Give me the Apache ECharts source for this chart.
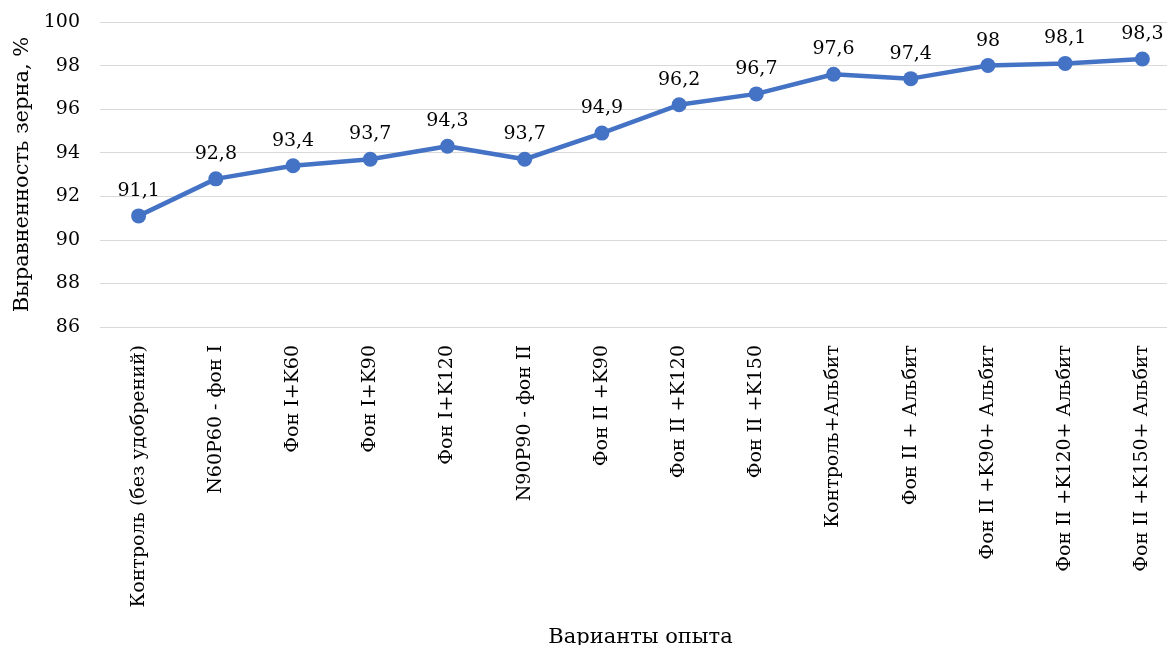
<html>
<head>
    <meta charset="utf-8">
    <title></title>
    <script src="https://cdn.jsdelivr.net/npm/echarts@6/dist/echarts.min.js" type="text/javascript"></script>
    <style>
        html, body { margin:0; padding:0; background:#fff; overflow:hidden; }
    </style>
</head>
<body>
    <!-- the plot runs a little past the right edge of the window, as in the original -->
    <div id="lineDiv" style="width:1181px;height:645px;"></div>
</body>
<script type="text/javascript" charset="utf-8">
    // варианты опыта
    var categories = ['Контроль (без удобрений)', 'N60P60 - фон I', 'Фон I+K60', 'Фон I+K90', 'Фон I+K120',
        'N90P90 - фон II', 'Фон II +K90', 'Фон II +K120', 'Фон II +K150', 'Контроль+Альбит',
        'Фон II + Альбит', 'Фон II +K90+ Альбит', 'Фон II +K120+ Альбит', 'Фон II +K150+ Альбит'];
    var values = [91.1, 92.8, 93.4, 93.7, 94.3, 93.7, 94.9, 96.2, 96.7, 97.6, 97.4, 98, 98.1, 98.3];
    var yMin = 86, yMax = 100, yStep = 2;

    var font = '"DejaVu Serif", "Liberation Serif", serif';
    var lineChart = echarts.init(document.getElementById('lineDiv'));

    var option = {
        animation: false,
        textStyle: { fontFamily: font },
        grid: { left: 100, top: 22, right: 0, bottom: 318, containLabel: false, outerBoundsMode: 'none' },
        xAxis: {
            type: 'category',
            data: categories,
            name: 'Варианты опыта',
            nameLocation: 'middle',
            nameGap: 300,
            nameTextStyle: { fontFamily: font, fontSize: 21, color: '#000' },
            axisLine: { show: false },
            axisTick: { show: false },
            axisLabel: { rotate: 90, margin: 18, fontFamily: font, fontSize: 19, color: '#000' }
        },
        yAxis: {
            type: 'value',
            min: yMin, max: yMax, interval: yStep,
            name: 'Выравненность зерна, %',
            nameLocation: 'middle',
            nameRotate: 90,
            nameGap: 67,
            nameTextStyle: { fontFamily: font, fontSize: 21, color: '#000' },
            axisLine: { show: false },
            axisTick: { show: false },
            axisLabel: { margin: 20, fontFamily: font, fontSize: 19, color: '#000' },
            splitLine: { lineStyle: { color: '#d9d9d9', width: 1.2 } }
        },
        series: [{
            type: 'line',
            data: values,
            symbol: 'circle',
            symbolSize: 15,
            lineStyle: { color: '#4472c4', width: 4.5 },
            itemStyle: { color: '#4472c4' },
            label: {
                show: true,
                position: 'top',
                distance: 8,
                fontFamily: font,
                fontSize: 19,
                color: '#000',
                formatter: function (p) { return String(p.value).replace('.', ','); }
            }
        }]
    };
    lineChart.setOption(option);
</script>
</html>
